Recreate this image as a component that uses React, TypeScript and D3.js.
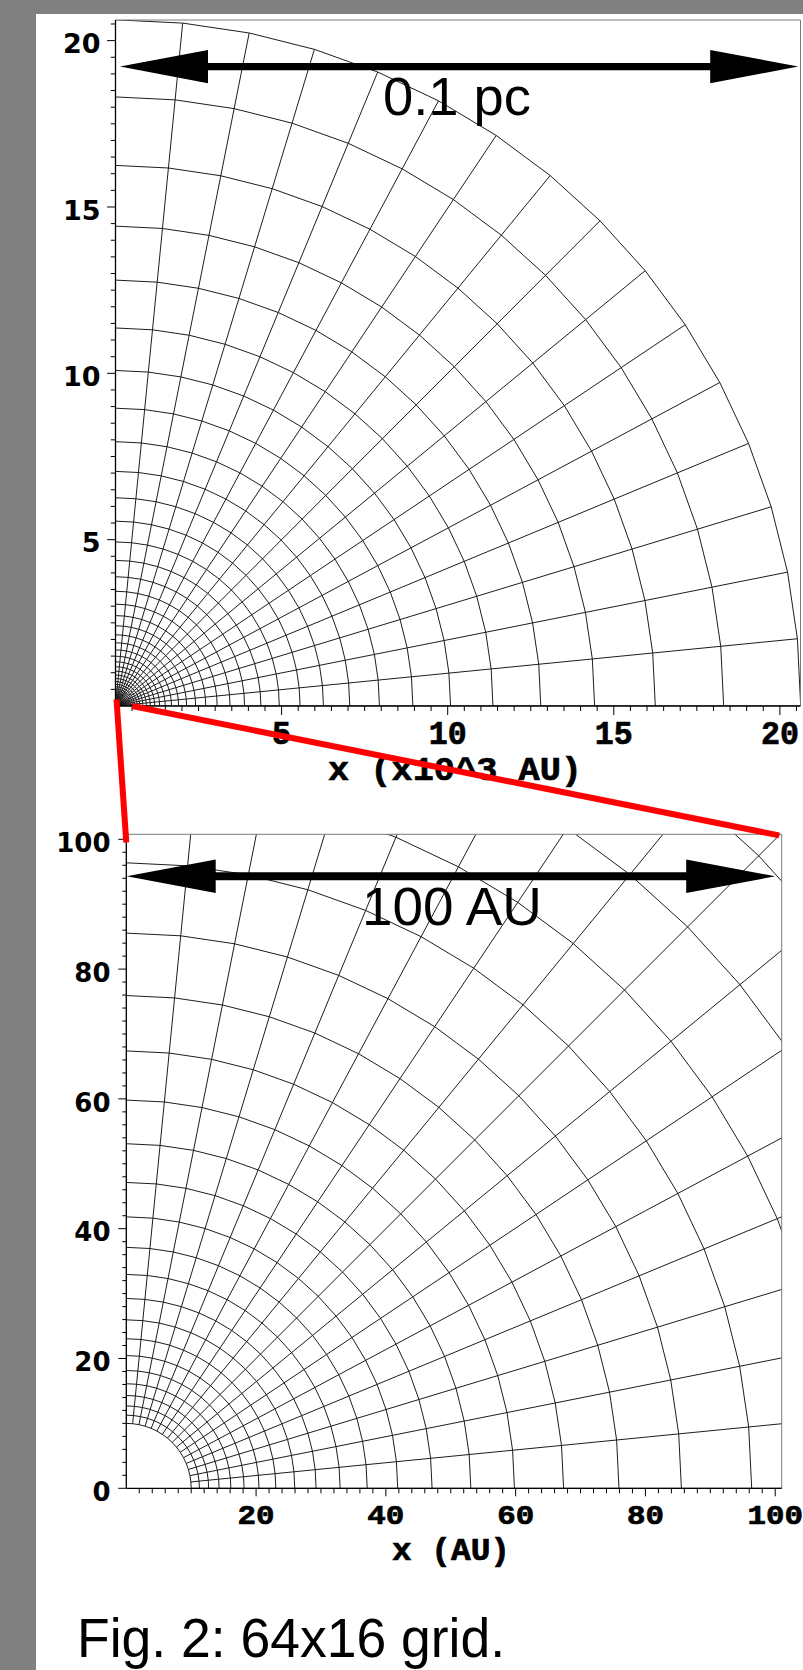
import React from "react";
import * as d3 from "d3";

// Grid definition (caption: "64x16 grid", inner radius 10 AU, outer radius 0.1 pc)
const RADIAL_CELLS = 64;
const ANGULAR_CELLS = 16;
const INNER_RADIUS_AU = 10;
const OUTER_RADIUS_AU = 20626; // 0.1 pc

// Axis ticks
const topXTicks = [5, 10, 15, 20];
const topYTicks = [5, 10, 15, 20];
const bottomXTicks = [20, 40, 60, 80, 100];
const bottomYTicks = [0, 20, 40, 60, 80, 100];

const topXTitle = "x (x10^3 AU)";
const bottomXTitle = "x (AU)";
const topScaleLabel = "0.1 pc";
const bottomScaleLabel = "100 AU";
const caption = "Fig. 2: 64x16 grid.";

const W = 803;
const H = 1670;

const radiiAU = d3.range(RADIAL_CELLS + 1).map(
  (i) => INNER_RADIUS_AU * Math.pow(OUTER_RADIUS_AU / INNER_RADIUS_AU, i / RADIAL_CELLS)
);
const anglesRad = d3.range(ANGULAR_CELLS + 1).map((j) => (j / ANGULAR_CELLS) * (Math.PI / 2));

// Scales
const xTop = d3.scaleLinear().domain([0, 20.62]).range([115.5, 800.5]);
const yTop = d3.scaleLinear().domain([0, 20.62]).range([706, 20]);
const xBot = d3.scaleLinear().domain([0, 101.0]).range([126.3, 781.7]);
const yBot = d3.scaleLinear().domain([0, 100.77]).range([1488.3, 834.3]);

const GRID_STROKE = "#111";
const MONO = "'Liberation Mono', 'Courier New', monospace";

function Mesh({ xs, ys, unit, maxR, clipId }: any) {
  const radii = radiiAU.map((r) => r / unit);
  const usedIdx: number[] = [];
  for (let i = 0; i < radii.length; i++) {
    usedIdx.push(i);
    if (radii[i] > maxR) break;
  }
  const line = d3
    .line<[number, number]>()
    .x((d) => xs(d[0]))
    .y((d) => ys(d[1]));
  const arcs = usedIdx.map((i) =>
    line(anglesRad.map((a) => [radii[i] * Math.cos(a), radii[i] * Math.sin(a)] as [number, number]))
  );
  const rays = anglesRad.map((a) =>
    line(usedIdx.map((i) => [radii[i] * Math.cos(a), radii[i] * Math.sin(a)] as [number, number]))
  );
  return (
    <g clipPath={`url(#${clipId})`} fill="none" stroke={GRID_STROKE} strokeWidth={0.95}>
      {arcs.map((d, k) => (
        <path key={"a" + k} d={d || ""} />
      ))}
      {rays.map((d, k) => (
        <path key={"r" + k} d={d || ""} />
      ))}
    </g>
  );
}

function Axes({
  xs,
  ys,
  xTicks,
  yTicks,
  minorStep,
  xLabelFont,
  xLabelBaselineOffset,
  xLabelCharW,
  yLabelFont,
  yLabelRight,
  majorLenX,
  minorLenX,
  majorLenY,
  minorLenY,
}: any) {
  const [x0, x1] = xs.range();
  const [y0, y1] = ys.range();
  const xMax = xs.domain()[1];
  const yMax = ys.domain()[1];
  const xMinor = d3.range(0, xMax + 1e-9, minorStep).filter((v) => !xTicks.includes(v) && v > 0);
  const yMinor = d3.range(0, yMax + 1e-9, minorStep).filter((v) => !yTicks.includes(v) && v > 0);
  return (
    <g>
      {/* frame */}
      <line x1={x0} y1={y1} x2={x1} y2={y1} stroke="#7a7a7a" strokeWidth={1} />
      <line x1={x1} y1={y1} x2={x1} y2={y0} stroke="#7a7a7a" strokeWidth={1} />
      <line x1={x0} y1={y0} x2={x1} y2={y0} stroke="#000" strokeWidth={1.3} />
      <line x1={x0} y1={y0} x2={x0} y2={y1} stroke="#000" strokeWidth={1.3} />
      {/* ticks */}
      {xTicks.map((v: number) => (
        <line key={"xt" + v} x1={xs(v)} x2={xs(v)} y1={y0} y2={y0 + majorLenX} stroke="#000" strokeWidth={1} />
      ))}
      {xMinor.map((v: number) => (
        <line key={"xm" + v} x1={xs(v)} x2={xs(v)} y1={y0} y2={y0 + minorLenX} stroke="#000" strokeWidth={1} />
      ))}
      {yTicks.map((v: number) => (
        <line key={"yt" + v} x1={x0 - majorLenY} x2={x0} y1={ys(v)} y2={ys(v)} stroke="#000" strokeWidth={1} />
      ))}
      {yMinor.map((v: number) => (
        <line key={"ym" + v} x1={x0 - minorLenY} x2={x0} y1={ys(v)} y2={ys(v)} stroke="#000" strokeWidth={1} />
      ))}
      {/* labels */}
      {xTicks.map((v: number) => {
        const s = String(v);
        return (
          <text
            key={"xl" + v}
            x={xs(v)}
            y={y0 + xLabelBaselineOffset}
            textAnchor="middle"
            fontFamily={MONO}
            fontWeight="bold"
            fontSize={xLabelFont}
            stroke="#000"
            strokeWidth={0.7}
            textLength={xLabelCharW * s.length}
            lengthAdjust="spacingAndGlyphs"
          >
            {s}
          </text>
        );
      })}
      {yTicks.map((v: number) => (
        <text
          key={"yl" + v}
          x={yLabelRight}
          y={ys(v) + 12.7}
          textAnchor="end"
          fontFamily="'DejaVu Sans', sans-serif"
          fontWeight="bold"
          fontSize={yLabelFont}
        >
          {String(v)}
        </text>
      ))}
    </g>
  );
}

function arrowPath(xa: number, xb: number, y: number, headLen: number, headHalf: number, shaftHalf: number) {
  const p = d3.path();
  p.moveTo(xa, y);
  p.lineTo(xa + headLen, y - headHalf);
  p.lineTo(xa + headLen, y - shaftHalf);
  p.lineTo(xb - headLen, y - shaftHalf);
  p.lineTo(xb - headLen, y - headHalf);
  p.lineTo(xb, y);
  p.lineTo(xb - headLen, y + headHalf);
  p.lineTo(xb - headLen, y + shaftHalf);
  p.lineTo(xa + headLen, y + shaftHalf);
  p.lineTo(xa + headLen, y + headHalf);
  p.closePath();
  return p.toString();
}

export default function App() {
  const [tx0, tx1] = xTop.range();
  const [ty0, ty1] = yTop.range();
  const [bx0, bx1] = xBot.range();
  const [by0, by1] = yBot.range();
  return (
    <svg
      width={W}
      height={H}
      viewBox={`0 0 ${W} ${H}`}
      style={{ position: "absolute", left: 0, top: 0, display: "block" }}
    >
      <defs>
        <clipPath id="clipTop">
          <rect x={tx0} y={ty1} width={tx1 - tx0} height={ty0 - ty1} />
        </clipPath>
        <clipPath id="clipBot">
          <rect x={bx0} y={by1} width={bx1 - bx0} height={by0 - by1} />
        </clipPath>
      </defs>
      <rect x={0} y={0} width={W} height={H} fill="#808080" />
      <rect x={36} y={14} width={W - 36} height={H - 14} fill="#ffffff" />

      {/* Top panel: units of 10^3 AU */}
      <Mesh xs={xTop} ys={yTop} unit={1000} maxR={21} clipId="clipTop" />
      <Axes
        xs={xTop}
        ys={yTop}
        xTicks={topXTicks}
        yTicks={topYTicks}
        minorStep={0.5}
        xLabelFont={33}
        xLabelBaselineOffset={37.5}
        xLabelCharW={19}
        yLabelFont={27}
        yLabelRight={100.5}
        majorLenX={9}
        minorLenX={5}
        majorLenY={8.4}
        minorLenY={4.7}
      />
      <text
        x={455}
        y={780}
        textAnchor="middle"
        fontFamily={MONO}
        fontWeight="bold"
        fontSize={34}
        stroke="#000"
        strokeWidth={0.7}
        textLength={254}
        lengthAdjust="spacingAndGlyphs"
      >
        {topXTitle}
      </text>

      {/* Bottom panel: units of AU */}
      <Mesh xs={xBot} ys={yBot} unit={1} maxR={150} clipId="clipBot" />
      <Axes
        xs={xBot}
        ys={yBot}
        xTicks={bottomXTicks}
        yTicks={bottomYTicks}
        minorStep={2}
        xLabelFont={27}
        xLabelBaselineOffset={35.5}
        xLabelCharW={18.5}
        yLabelFont={26}
        yLabelRight={110.5}
        majorLenX={8}
        minorLenX={5}
        majorLenY={8}
        minorLenY={4}
      />
      <text
        x={451}
        y={1560}
        textAnchor="middle"
        fontFamily={MONO}
        fontWeight="bold"
        fontSize={31}
        stroke="#000"
        strokeWidth={0.7}
        textLength={118}
        lengthAdjust="spacingAndGlyphs"
      >
        {bottomXTitle}
      </text>

      {/* Scale arrows */}
      <path d={arrowPath(xTop(0) + 4.5, xTop(OUTER_RADIUS_AU / 1000) - 2.5, yTop(19.22), 88, 16.7, 3.7)} fill="#000" />
      <text x={383} y={115} fontFamily="'Liberation Sans', Arial, sans-serif" fontSize={53} textLength={148} lengthAdjust="spacingAndGlyphs">
        {topScaleLabel}
      </text>
      <path d={arrowPath(xBot(0) + 0.4, xBot(100), yBot(94.3), 89, 16.7, 4)} fill="#000" />
      <text x={362} y={925} fontFamily="'Liberation Sans', Arial, sans-serif" fontSize={53} textLength={180} lengthAdjust="spacingAndGlyphs">
        {bottomScaleLabel}
      </text>

      {/* Zoom connector lines */}
      <line x1={xTop(0.03)} y1={yTop(0.2)} x2={xBot(0)} y2={yBot(99.5)} stroke="#ff0000" strokeWidth={6} />
      <line x1={xTop(0.5)} y1={yTop(0)} x2={xBot(100.6)} y2={yBot(100.6)} stroke="#ff0000" strokeWidth={6} />

      {/* Caption */}
      <text x={77} y={1657} fontFamily="'Liberation Sans', Arial, sans-serif" fontSize={56} textLength={428} lengthAdjust="spacingAndGlyphs">
        {caption}
      </text>
    </svg>
  );
}
